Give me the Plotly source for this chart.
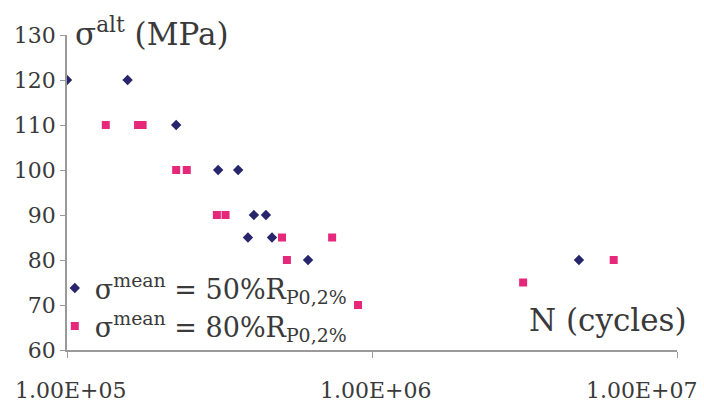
import math
import plotly.graph_objects as go

# Data
n_50 = [1.00e5, 1.58e5, 2.28e5, 3.13e5, 3.64e5, 4.10e5, 4.49e5, 3.92e5, 4.70e5, 6.17e5, 4.77e6]
s_50 = [120, 120, 110, 100, 100, 90, 90, 85, 85, 80, 80]

n_80 = [1.34e5, 1.71e5, 1.77e5, 2.28e5, 2.47e5, 3.10e5, 3.31e5, 5.07e5, 7.40e5, 5.26e5, 9.00e5, 3.13e6, 6.20e6]
s_80 = [110, 110, 110, 100, 100, 90, 90, 85, 85, 80, 70, 75, 80]

x_tickvals = [1e5, 1e6, 1e7]
x_ticktext = ["1.00E+05", "1.00E+06", "1.00E+07"]
y_tickvals = [60, 70, 80, 90, 100, 110, 120, 130]

name_50 = "σ<sup>mean</sup> = 50%R<sub>P0,2%</sub>"
name_80 = "σ<sup>mean</sup> = 80%R<sub>P0,2%</sub>"

FONT = "DejaVu Serif"
BLUE = "#27256b"
PINK = "#e5287a"
TXT = "#3a3a3a"

fig = go.Figure()
fig.add_trace(go.Scatter(x=n_50, y=s_50, mode="markers", name=name_50,
                         marker=dict(symbol="diamond", size=8, color=BLUE)))
fig.add_trace(go.Scatter(x=n_80, y=s_80, mode="markers", name=name_80,
                         marker=dict(symbol="square", size=8, color=PINK)))

anns = []
for i, (v, t) in enumerate(zip(x_tickvals, x_ticktext)):
    last = i == len(x_tickvals) - 1
    anns.append(dict(text=t, xref="x", yref="paper", x=math.log10(v),
                     y=0, yshift=-40, xanchor="right" if last else "center",
                     xshift=22 if last else 3, yanchor="middle", showarrow=False,
                     font=dict(family=FONT, size=22, color=TXT)))

anns += [
    dict(text="σ<sup>alt</sup> (MPa)", xref="paper", yref="paper", x=0.01, y=1.01,
         xanchor="left", yanchor="middle", showarrow=False,
         font=dict(family=FONT, size=31, color=TXT)),
    dict(text="N (cycles)", xref="paper", yref="paper", x=1.02, y=0.095,
         xanchor="right", yanchor="middle", showarrow=False,
         font=dict(family=FONT, size=31, color=TXT)),
]

fig.update_layout(
    width=704, height=407,
    margin=dict(l=67, r=27, t=35, b=57),
    paper_bgcolor="white", plot_bgcolor="white",
    font=dict(family=FONT, color=TXT, size=22),
    showlegend=True,
    legend=dict(x=-0.02, y=-0.003, xanchor="left", yanchor="bottom",
                bgcolor="rgba(0,0,0,0)", font=dict(family=FONT, size=27, color=TXT),
                tracegroupgap=0, itemsizing="trace"),
    xaxis=dict(type="log", range=[5, 7], tickvals=x_tickvals, showticklabels=False,
               showgrid=False, zeroline=False, showline=True, linecolor="#9a9a9a",
               linewidth=1.5, ticks="outside", ticklen=6, tickcolor="#9a9a9a",
               automargin=False),
    yaxis=dict(range=[60, 130], tickvals=y_tickvals, showgrid=False, zeroline=False,
               showline=True, linecolor="#9a9a9a", linewidth=1.5, ticks="outside",
               ticklen=5, tickcolor="#9a9a9a", automargin=False,
               tickfont=dict(family=FONT, size=22, color=TXT)),
    annotations=anns,
)

fig.write_html("out.html", config={"displayModeBar": False},
               post_script="document.body.style.margin='0';")
